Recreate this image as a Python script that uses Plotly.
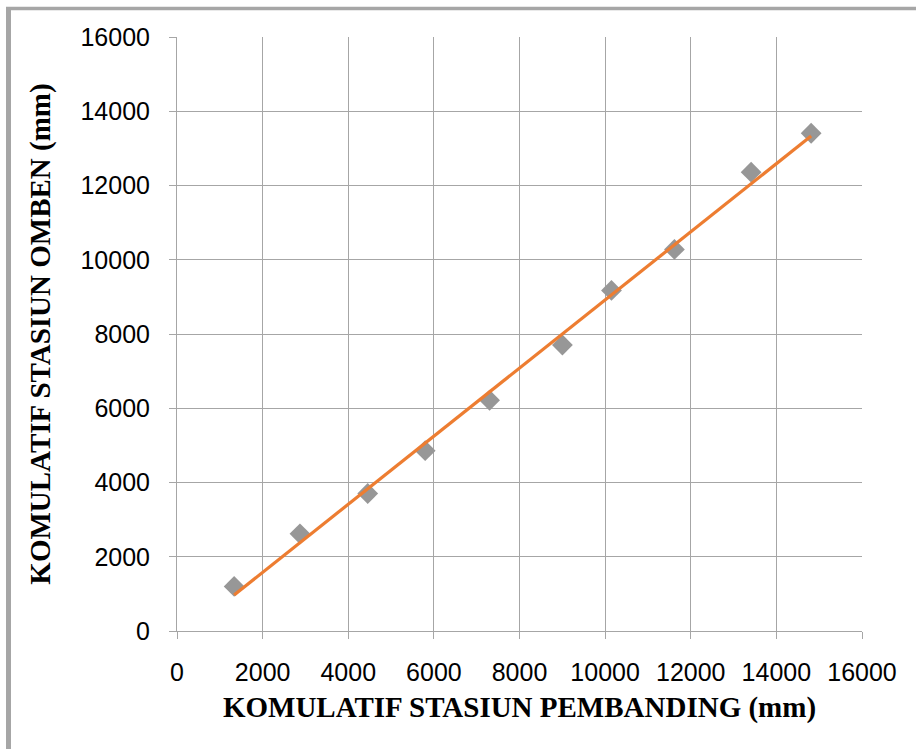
import numpy as np
import plotly.graph_objects as go

# Data
komulatif_pembanding = [1335, 2872, 4455, 5797, 7301, 9002, 10148, 11619, 13410, 14812]
komulatif_omben = [1202, 2617, 3704, 4858, 6216, 7704, 9173, 10279, 12359, 13407]
tick_values = [0, 2000, 4000, 6000, 8000, 10000, 12000, 14000, 16000]
tick_labels = [str(v) for v in tick_values]

x = np.array(komulatif_pembanding, dtype=float)
y = np.array(komulatif_omben, dtype=float)
slope, intercept = np.polyfit(x, y, 1)
trend_x = [x.min(), x.max()]
trend_y = [slope * v + intercept for v in trend_x]

W, H = 916, 749
L, R, T, B = 177, 54, 37, 118
pw, ph = W - L - R, H - T - B

def px(xp):
    return (xp - L) / pw

def py(yp):
    return (H - B - yp) / ph

fig = go.Figure()
fig.add_trace(go.Scatter(
    x=komulatif_pembanding, y=komulatif_omben, mode="markers",
    marker=dict(symbol="diamond", size=16, color="#979797",
                line=dict(width=0)),
    showlegend=False, hoverinfo="x+y"))
fig.add_trace(go.Scatter(
    x=trend_x, y=trend_y, mode="lines",
    line=dict(color="#ED7D31", width=3.2),
    showlegend=False))

tick_font = dict(family="Liberation Sans Narrow, Arial Narrow, sans-serif", size=25, color="#000")
title_font = dict(family="Liberation Serif, Times New Roman, serif", size=29, color="#000")

axis_common = dict(
    range=[0, 16000], tickvals=tick_values, ticktext=tick_labels,
    showgrid=True, gridcolor="#a6a6a6", gridwidth=1,
    showline=True, linecolor="#a6a6a6", linewidth=1,
    ticks="outside", ticklen=7, tickcolor="#a6a6a6",
    zeroline=False, mirror=False,
    tickfont=tick_font,
)

fig.update_xaxes(**axis_common, ticklabelstandoff=12,
                 title=dict(text="<b>KOMULATIF STASIUN PEMBANDING (mm)</b>",
                            font=title_font, standoff=11))
fig.update_yaxes(**axis_common, ticklabelstandoff=14,
                 title=dict(text="<b>KOMULATIF STASIUN OMBEN (mm)</b>",
                            font=title_font, standoff=21))

# Gray frame (top and left edges visible)
fig.add_shape(type="line", xref="paper", yref="paper",
              x0=px(6), x1=px(W + 5), y0=py(8.5), y1=py(8.5),
              line=dict(color="#a6a6a6", width=3.5))
fig.add_shape(type="line", xref="paper", yref="paper",
              x0=px(8.5), x1=px(8.5), y0=py(7), y1=py(H + 5),
              line=dict(color="#a6a6a6", width=5))

fig.update_layout(
    width=W, height=H,
    margin=dict(l=L, r=R, t=T, b=B),
    paper_bgcolor="white", plot_bgcolor="white",
    showlegend=False,
)

fig.write_html("out.html", config={"displayModeBar": False},
               post_script="document.body.style.margin='0';")
